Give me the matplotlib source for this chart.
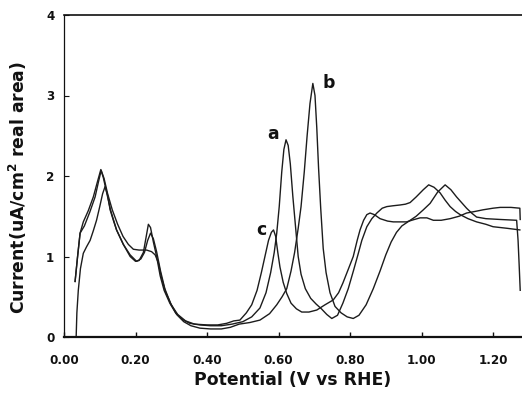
import numpy as np
import matplotlib
matplotlib.use("Agg")
import matplotlib.pyplot as plt

# ---- data (potential V vs RHE, current uA/cm^2) ----
curve_a = [(0.031,0.69),(0.038,1.0),(0.045,1.29),(0.054,1.43),(0.068,1.57),(0.082,1.74),(0.093,1.92),
           (0.103,2.08),(0.110,1.98),(0.120,1.78),(0.130,1.58),(0.147,1.33),(0.166,1.15),(0.185,1.0),
           (0.200,0.94),(0.210,0.95),(0.222,1.05),(0.230,1.25),(0.236,1.40),(0.242,1.36),(0.250,1.18),
           (0.259,1.0),(0.269,0.76),(0.280,0.58),(0.296,0.42),(0.312,0.30),(0.330,0.22),(0.352,0.17),
           (0.380,0.15),(0.410,0.14),(0.440,0.14),(0.470,0.16),(0.500,0.19),(0.525,0.25),(0.548,0.36),
           (0.565,0.55),(0.578,0.80),(0.588,1.05),(0.595,1.29),(0.602,1.62),(0.609,2.05),(0.615,2.33),
           (0.621,2.45),(0.627,2.38),(0.633,2.15),(0.640,1.75),(0.647,1.40),(0.655,1.0),(0.663,0.78),
           (0.675,0.60),(0.690,0.48),(0.705,0.41),(0.720,0.35),(0.735,0.28),(0.749,0.23),(0.765,0.27),
           (0.780,0.42),(0.795,0.6),(0.810,0.83),(0.822,1.02),(0.833,1.2),(0.847,1.37),(0.861,1.47),
           (0.875,1.54),(0.890,1.6),(0.903,1.62),(0.920,1.63),(0.940,1.64),(0.955,1.65),(0.968,1.67),
           (0.985,1.74),(1.005,1.83),(1.020,1.89),(1.035,1.86),(1.052,1.79),(1.066,1.70),(1.080,1.62),
           (1.095,1.56),(1.108,1.52),(1.130,1.47),(1.154,1.43),(1.180,1.40),(1.200,1.37),(1.240,1.35),
           (1.275,1.33)]

curve_b = [(0.034,0.0),(0.036,0.3),(0.040,0.58),(0.046,0.85),(0.054,1.04),(0.063,1.12),(0.073,1.2),
           (0.082,1.32),(0.091,1.45),(0.100,1.62),(0.108,1.78),(0.115,1.87),(0.122,1.76),(0.129,1.58),
           (0.138,1.45),(0.147,1.33),(0.166,1.15),(0.185,1.02),(0.203,0.94),(0.215,0.97),(0.225,1.05),
           (0.234,1.2),(0.242,1.29),(0.250,1.22),(0.259,1.06),(0.270,0.82),(0.282,0.6),(0.298,0.42),
           (0.315,0.28),(0.335,0.19),(0.355,0.14),(0.380,0.11),(0.410,0.10),(0.440,0.10),(0.465,0.12),
           (0.490,0.16),(0.520,0.18),(0.548,0.21),(0.575,0.29),(0.595,0.40),(0.610,0.50),(0.623,0.60),
           (0.635,0.82),(0.645,1.05),(0.655,1.35),(0.663,1.62),(0.672,2.05),(0.680,2.5),(0.688,2.9),
           (0.696,3.15),(0.702,3.0),(0.707,2.6),(0.712,2.1),(0.718,1.6),(0.725,1.1),(0.733,0.8),
           (0.744,0.55),(0.758,0.38),(0.775,0.30),(0.792,0.25),(0.809,0.23),(0.825,0.27),(0.845,0.40),
           (0.865,0.60),(0.884,0.82),(0.900,1.02),(0.915,1.18),(0.930,1.30),(0.945,1.38),(0.965,1.44),
           (0.985,1.50),(1.005,1.58),(1.024,1.66),(1.045,1.80),(1.066,1.89),(1.082,1.83),(1.098,1.74),
           (1.112,1.67),(1.126,1.60),(1.140,1.54),(1.154,1.49),(1.180,1.47),(1.220,1.46),(1.266,1.45),
           (1.270,1.2),(1.273,0.9),(1.276,0.58)]

curve_c = [(0.031,0.69),(0.038,1.0),(0.045,1.29),(0.057,1.38),(0.072,1.55),(0.087,1.74),(0.096,1.92),
           (0.104,2.07),(0.112,1.97),(0.122,1.78),(0.135,1.58),(0.150,1.40),(0.165,1.25),(0.180,1.15),
           (0.194,1.09),(0.210,1.08),(0.231,1.08),(0.245,1.06),(0.255,1.02),(0.264,0.92),(0.272,0.75),
           (0.284,0.56),(0.300,0.40),(0.318,0.28),(0.340,0.20),(0.365,0.16),(0.400,0.15),(0.430,0.15),
           (0.455,0.17),(0.475,0.20),(0.492,0.21),(0.510,0.30),(0.525,0.40),(0.540,0.58),(0.552,0.80),
           (0.562,1.0),(0.572,1.2),(0.580,1.30),(0.586,1.33),(0.592,1.25),(0.598,1.05),(0.604,0.87),
           (0.613,0.68),(0.623,0.54),(0.635,0.42),(0.650,0.35),(0.665,0.31),(0.685,0.31),(0.707,0.335),
           (0.730,0.40),(0.753,0.46),(0.768,0.55),(0.780,0.67),(0.795,0.84),(0.809,1.0),(0.820,1.2),
           (0.828,1.33),(0.838,1.45),(0.847,1.52),(0.856,1.54),(0.868,1.52),(0.884,1.47),(0.905,1.44),
           (0.921,1.43),(0.940,1.43),(0.958,1.43),(0.980,1.46),(0.996,1.48),(1.015,1.48),(1.033,1.45),
           (1.055,1.45),(1.080,1.47),(1.105,1.50),(1.126,1.54),(1.150,1.56),(1.172,1.58),(1.200,1.60),
           (1.220,1.61),(1.250,1.61),(1.275,1.60),(1.276,1.46)]

curve_labels = ["a", "b", "c"]
label_pos = [(0.584, 2.52), (0.739, 3.16), (0.553, 1.33)]

x_ticks = [0.0, 0.2, 0.4, 0.6, 0.8, 1.0, 1.2]
x_tick_labels = ["0.00", "0.20", "0.40", "0.60", "0.80", "1.00", "1.20"]
y_ticks = [0, 1, 2, 3, 4]
y_tick_labels = ["0", "1", "2", "3", "4"]

plt.rcParams['font.family'] = ['DejaVu Sans']

W, H = 522, 408
fig = plt.figure(figsize=(W/100, H/100), dpi=100)
ax = fig.add_axes([64/W, 1-337/H, 458/W, 322/H])

line_kw = dict(color="#1c1c1c", lw=1.0)
for pts in (curve_a, curve_b, curve_c):
    arr = np.array(pts)
    ax.plot(arr[:, 0], arr[:, 1], **line_kw)

for lab, (lx, ly) in zip(curve_labels, label_pos):
    ax.text(lx, ly, lab, fontsize=12.4, fontweight="bold", ha="center", va="center", color="#111")

ax.set_xlim(0, 1.281)
ax.set_ylim(0, 4)
ax.set_xticks(x_ticks)
ax.set_xticklabels(x_tick_labels)
ax.set_yticks(y_ticks)
ax.set_yticklabels(y_tick_labels)
ax.tick_params(axis="x", direction="in", length=3.5, width=1.0, pad=12, labelsize=8.6, colors="#111")
ax.tick_params(axis="y", direction="in", length=3.5, width=0.8, pad=7, labelsize=8.6, colors="#111")
for t in ax.get_xticklabels() + ax.get_yticklabels():
    t.set_fontweight("bold")

ax.spines["right"].set_visible(False)
ax.spines["left"].set_linewidth(0.9)
ax.spines["top"].set_linewidth(1.2)
ax.spines["bottom"].set_linewidth(1.6)
for s in ax.spines.values():
    s.set_color("#111")

ax.set_xlabel("Potential (V vs RHE)", fontsize=12.4, fontweight="bold", color="#111")
ax.xaxis.set_label_coords(0.5, (337-380)/322)
ax.xaxis.label.set_va("center")
ax.set_ylabel("Current(uA/cm$^\\mathbf{2}$ real area)", fontsize=12.4, fontweight="bold", color="#111")
ax.yaxis.set_label_coords((18-64)/458, (337-188)/322)
ax.yaxis.label.set_va("center")

fig.savefig("out.png", dpi=100)
